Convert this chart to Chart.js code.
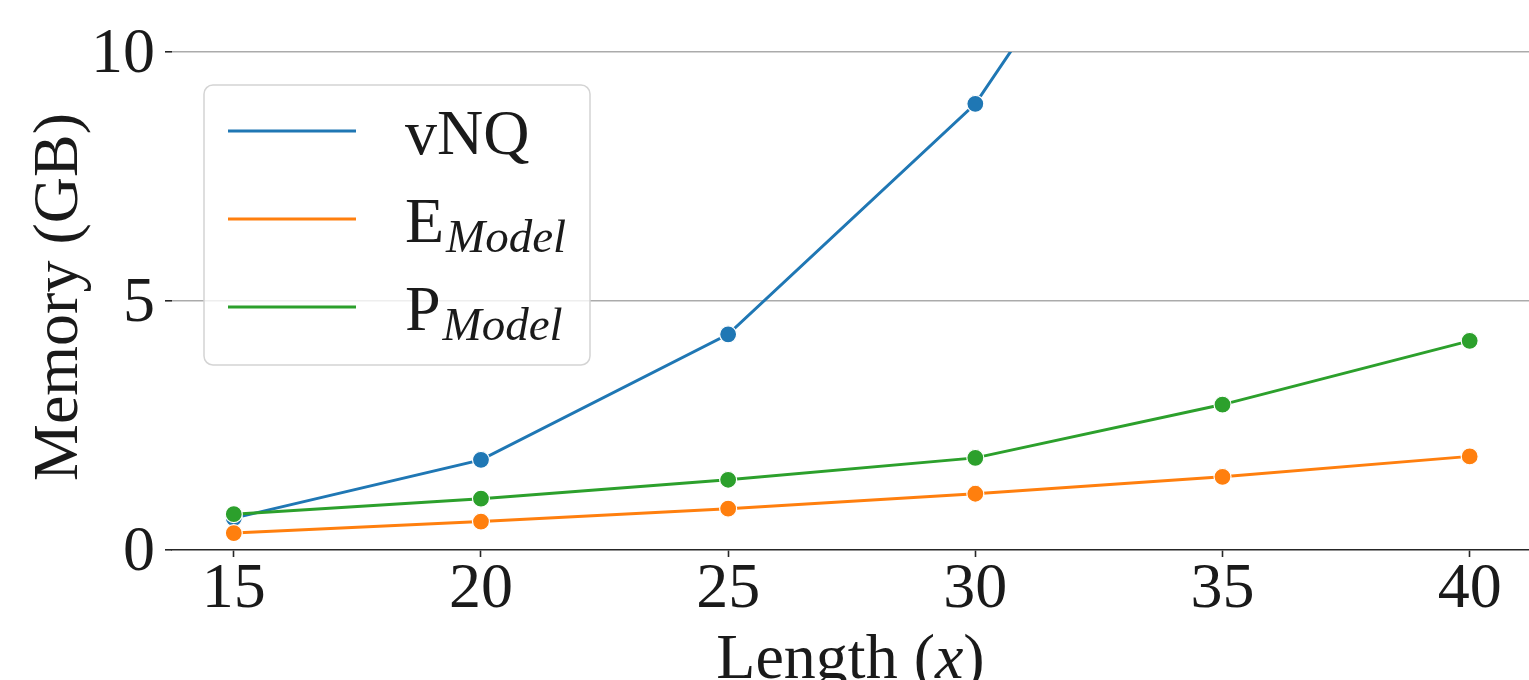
<!DOCTYPE html>
<html>
<head>
  <meta charset="utf-8">
  <script src="https://cdn.jsdelivr.net/npm/chart.js"></script>
  <style>
    html, body { margin: 0; padding: 0; background: #fff; }
    #wrap { width: 1529px; height: 680px; }
  </style>
</head>
<body>
  <div id="wrap"><canvas id="memChart" width="1529" height="680"></canvas></div>

  <script>
    // values
    const lengths = [15, 20, 25, 30, 35, 40];
    const vnqMem = [0.64, 1.81, 4.33, 8.96, 16.3, 27.0];
    const eModelMem = [0.34, 0.57, 0.83, 1.13, 1.47, 1.88];
    const pModelMem = [0.72, 1.03, 1.41, 1.85, 2.92, 4.2];
    const yTicks = [0, 5, 10];
    const seriesNames = [['vNQ', ''], ['E', 'Model'], ['P', 'Model']];
    const seriesColors = ['#1f77b4', '#ff7f0e', '#2ca02c'];

    const SERIF = '"Liberation Serif", "DejaVu Serif", serif';
    const INK = '#1a1a1a';

    function toPoints(arr) {
      return lengths.map((x, i) => ({ x: x, y: arr[i] }));
    }

    function makeSet(i, arr) {
      return {
        label: seriesNames[i].join(''),
        data: toPoints(arr),
        borderColor: seriesColors[i],
        backgroundColor: seriesColors[i],
        pointBackgroundColor: seriesColors[i],
        pointBorderColor: '#ffffff',
        pointBorderWidth: 1.2,
        pointRadius: 8.5,
        borderWidth: 3,
        tension: 0,
        order: 3 - i   // last series on top, like matplotlib
      };
    }

    // legend + axis titles (need subscripts / italics)
    const overlay = {
      id: 'overlay',
      afterDraw(chart) {
        const ctx = chart.ctx;
        const area = chart.chartArea;
        ctx.save();

        // legend frame
        ctx.beginPath();
        ctx.roundRect(204, 85, 386, 280, 9);
        ctx.fillStyle = 'rgba(255,255,255,0.8)';
        ctx.fill();
        ctx.lineWidth = 1.5;
        ctx.strokeStyle = '#d4d4d4';
        ctx.stroke();

        ctx.textAlign = 'left';
        ctx.textBaseline = 'alphabetic';
        seriesNames.forEach((nm, i) => {
          const ly = 131 + i * 88;
          ctx.beginPath();
          ctx.moveTo(228, ly);
          ctx.lineTo(356, ly);
          ctx.lineWidth = 3;
          ctx.strokeStyle = seriesColors[i];
          ctx.stroke();

          ctx.fillStyle = INK;
          ctx.font = '64px ' + SERIF;
          ctx.fillText(nm[0], 405, ly + 23);
          const w = ctx.measureText(nm[0]).width;
          if (nm[1]) {
            ctx.font = 'italic 47px ' + SERIF;
            ctx.fillText(nm[1], 405 + w + 2, ly + 33);
          }
        });

        // x title: Length (x)
        ctx.fillStyle = INK;
        const parts = [['Length (', ''], ['x', 'italic '], [')', '']];
        let total = 0;
        parts.forEach(p => {
          ctx.font = p[1] + '64px ' + SERIF;
          total += ctx.measureText(p[0]).width;
        });
        let tx = (area.left + area.right) / 2 - total / 2;
        parts.forEach(p => {
          ctx.font = p[1] + '64px ' + SERIF;
          ctx.fillText(p[0], tx, 678);
          tx += ctx.measureText(p[0]).width;
        });

        // y title
        ctx.translate(77, 297);
        ctx.rotate(-Math.PI / 2);
        ctx.textAlign = 'center';
        ctx.font = '64px ' + SERIF;
        ctx.fillText('Memory (GB)', 0, 0);

        ctx.restore();
      }
    };

    new Chart(document.getElementById('memChart'), {
      type: 'line',
      data: {
        datasets: [
          makeSet(0, vnqMem),
          makeSet(1, eModelMem),
          makeSet(2, pModelMem)
        ]
      },
      options: {
        responsive: false,
        animation: false,
        devicePixelRatio: 1,
        layout: { autoPadding: false, padding: { top: 52, left: 0, right: 0, bottom: 0 } },
        plugins: {
          legend: { display: false },
          tooltip: { enabled: false }
        },
        scales: {
          x: {
            type: 'linear',
            min: 13.75,
            max: 41.2,
            afterBuildTicks: s => { s.ticks = lengths.map(v => ({ value: v })); },
            afterFit: s => { s.height = 130; s.paddingLeft = 0; s.paddingRight = 0; },
            grid: {
              drawOnChartArea: false,
              drawTicks: true,
              tickLength: 7,
              tickColor: '#262626',
              tickWidth: 1.6
            },
            border: { display: true, color: '#262626', width: 1.6 },
            ticks: {
              font: { family: SERIF, size: 64 },
              color: INK,
              padding: -5,
              maxRotation: 0,
              autoSkip: false
            }
          },
          y: {
            min: 0,
            max: 10,
            afterBuildTicks: s => { s.ticks = yTicks.map(v => ({ value: v })); },
            afterFit: s => { s.width = 172; },
            grid: {
              color: c => (c.tick && c.tick.value === 0) ? 'rgba(0,0,0,0)' : '#ababab',
              lineWidth: 1.6,
              tickLength: 7,
              tickColor: '#262626',
              tickWidth: 1.6
            },
            border: { display: false },
            ticks: {
              font: { family: SERIF, size: 64 },
              color: INK,
              padding: 10,
              labelOffset: 3
            }
          }
        }
      },
      plugins: [overlay]
    });
  </script>
</body>
</html>
